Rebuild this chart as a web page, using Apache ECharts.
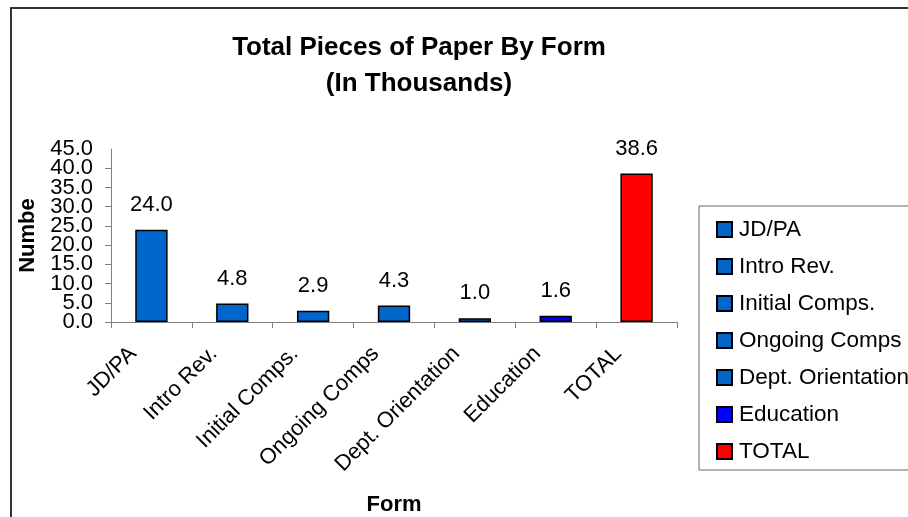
<!DOCTYPE html>
<html>
<head>
<meta charset="utf-8">
<script src="https://cdn.jsdelivr.net/npm/echarts@6/dist/echarts.min.js"></script>
<style>
html, body { margin: 0; padding: 0; background: #fff; }
#chart { width: 908px; height: 517px; }
</style>
</head>
<body>
<div id="chart"></div>
<script>
// chart data
var categories = ['JD/PA', 'Intro Rev.', 'Initial Comps.', 'Ongoing Comps', 'Dept. Orientation', 'Education', 'TOTAL'];
var values = [24.0, 4.8, 2.9, 4.3, 1.0, 1.6, 38.6];
var yTicks = [0, 5, 10, 15, 20, 25, 30, 35, 40, 45];

var barColors = ['#0066cc', '#0066cc', '#0066cc', '#0066cc', '#0066cc', '#0000ff', '#ff0000'];
var font = 'Liberation Sans, Arial, sans-serif';
var step = yTicks[1] - yTicks[0];

// one series per form so each gets its own legend entry
var series = categories.map(function (name, i) {
    return {
        name: name,
        type: 'bar',
        stack: 'forms',
        yAxisIndex: 0,
        barWidth: '40%',
        itemStyle: { color: barColors[i], borderColor: '#000', borderWidth: 1.5 },
        label: {
            show: true,
            position: 'top',
            distance: 14,
            color: '#000',
            fontFamily: font,
            fontSize: 22,
            formatter: function (p) { return p.value.toFixed(1); }
        },
        data: values.map(function (v, j) { return j === i ? v : '-'; })
    };
});

// the tick labels are packed tighter than their font, so even and odd
// ticks are labelled on two overlaid axes to keep ECharts from dropping any
function tickLabel(odd) {
    return function (v) {
        var k = Math.round(v / step);
        return (k % 2 === 1) === odd ? v.toFixed(1) : '';
    };
}
var labelStyle = { margin: 18, hideOverlap: false, color: '#000', fontFamily: font, fontSize: 22 };

var chart = echarts.init(document.getElementById('chart'));
chart.setOption({
    animation: false,
    backgroundColor: '#fff',
    textStyle: { fontFamily: font },
    title: {
        text: 'Total Pieces of Paper By Form\n(In Thousands)',
        left: 414,
        top: 25,
        textAlign: 'center',
        textStyle: { fontFamily: font, fontSize: 26, fontWeight: 'bold', color: '#000', lineHeight: 36 }
    },
    graphic: [{
        type: 'rect',
        shape: { x: 11, y: 8, width: 1000, height: 700 },
        style: { fill: 'none', stroke: '#333', lineWidth: 2 },
        silent: true
    }],
    legend: {
        orient: 'vertical',
        left: 699,
        top: 206,
        padding: [12, 300, 7, 17],
        borderColor: '#666',
        borderWidth: 1,
        itemWidth: 15,
        itemHeight: 15,
        itemGap: 14,
        icon: 'rect',
        textStyle: { fontFamily: font, fontSize: 22.5, color: '#000', padding: [0, 0, 0, 2] },
        data: categories
    },
    grid: { left: 111, right: 231, top: 149, bottom: 191 },
    xAxis: {
        type: 'category',
        data: categories,
        name: 'Form',
        nameLocation: 'middle',
        nameGap: 172,
        nameTextStyle: { fontFamily: font, fontSize: 22, fontWeight: 'bold', color: '#000' },
        axisLine: { lineStyle: { color: '#808080', width: 1 } },
        axisTick: { show: true, length: 6, interval: 0, lineStyle: { color: '#808080' } },
        axisLabel: {
            rotate: 45, interval: 0, margin: 10, padding: [0, 26, 0, 0],
            color: '#000', fontFamily: font, fontSize: 22
        }
    },
    yAxis: [{
        type: 'value',
        position: 'left',
        min: yTicks[0],
        max: yTicks[yTicks.length - 1],
        interval: step,
        name: 'Numbe',
        nameLocation: 'middle',
        nameRotate: 90,
        nameGap: 61,
        nameTextStyle: { fontFamily: font, fontSize: 22, fontWeight: 'bold', color: '#000' },
        axisLine: { show: true, lineStyle: { color: '#808080', width: 1 } },
        axisTick: { show: true, length: 6, lineStyle: { color: '#808080' } },
        splitLine: { show: false },
        axisLabel: Object.assign({ showMinLabel: true, showMaxLabel: false, formatter: tickLabel(false) }, labelStyle)
    }, {
        type: 'value',
        position: 'left',
        offset: 0,
        min: yTicks[0],
        max: yTicks[yTicks.length - 1],
        interval: step,
        axisLine: { show: false },
        axisTick: { show: false },
        splitLine: { show: false },
        axisLabel: Object.assign({ showMinLabel: false, showMaxLabel: true, formatter: tickLabel(true) }, labelStyle)
    }],
    series: series
});
</script>
</body>
</html>
